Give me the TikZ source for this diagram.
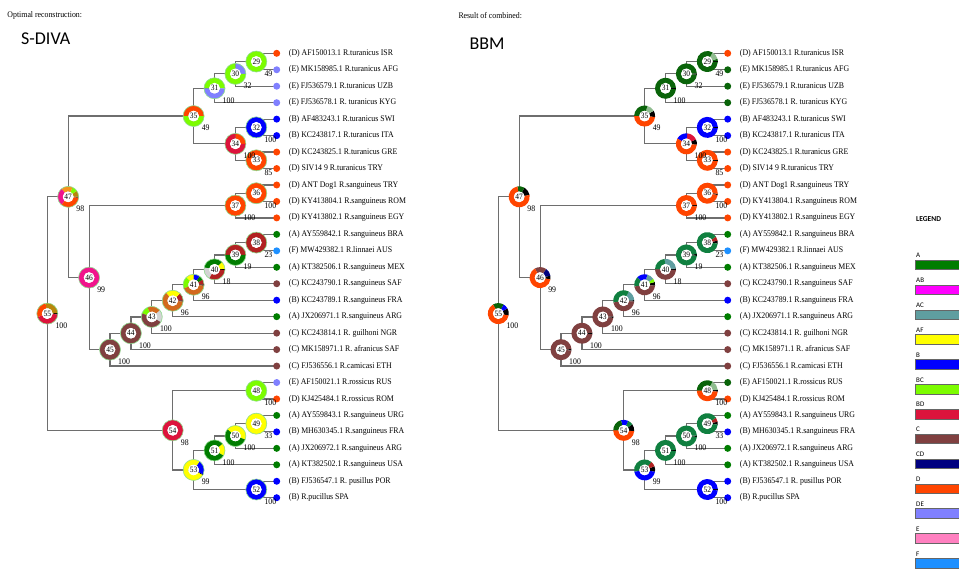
\documentclass[tikz,border=0pt]{standalone}
\usepackage{fontspec}
\setmainfont{Liberation Serif}
\newfontfamily\tipfont{Liberation Serif}[FakeStretch=0.91]
\newfontfamily\calfont{Carlito}
\usetikzlibrary{calc}
\definecolor{cA}{RGB}{0,125,0}
\definecolor{cAdk}{RGB}{10,100,10}
\definecolor{cAsea}{RGB}{16,128,64}
\definecolor{cAB}{RGB}{255,0,255}
\definecolor{cABt}{RGB}{240,20,140}
\definecolor{cAC}{RGB}{95,158,160}
\definecolor{cAF}{RGB}{255,255,0}
\definecolor{cB}{RGB}{0,0,255}
\definecolor{cBC}{RGB}{124,252,0}
\definecolor{cBD}{RGB}{220,20,60}
\definecolor{cC}{RGB}{128,64,64}
\definecolor{cCD}{RGB}{0,0,128}
\definecolor{cD}{RGB}{255,69,0}
\definecolor{cDE}{RGB}{128,128,255}
\definecolor{cE}{RGB}{255,128,192}
\definecolor{cF}{RGB}{30,144,255}
\definecolor{cFire}{RGB}{178,34,34}
\definecolor{cChoc}{RGB}{210,105,30}
\definecolor{cGray}{RGB}{211,211,211}
\definecolor{cGold}{RGB}{184,134,11}
\definecolor{cDOr}{RGB}{247,148,29}
\definecolor{cLtG}{RGB}{143,188,143}
\definecolor{cRim}{RGB}{144,220,144}
\definecolor{cEdge}{RGB}{110,110,110}
\tikzset{
  edge/.style={draw=cEdge, line width=1.2pt},
  tiplabel/.style={font=\tipfont\fontsize{8.6}{10}\selectfont, inner sep=0pt, anchor=west},
  boot/.style={font=\tipfont\fontsize{8.6}{10}\selectfont, inner sep=0pt, anchor=west},
  numnode/.style={circle, fill=white, minimum size=10.8pt, inner sep=0pt, font=\tipfont\fontsize{8.2}{9}\selectfont},
  rimL/.style={draw=cRim, line width=0.6pt},
  rimR/.style={draw=none},
  legbar/.style={draw=black!60, line width=0.8pt},
  leglab/.style={font=\calfont\fontsize{7}{8}\selectfont, inner sep=0pt, anchor=west},
}
\newcommand{\pnode}[4]{%
  \begin{scope}[shift={(#1)}]
    \foreach \sa/\ea/\sc in {#3}{%
      \fill[\sc] (\sa:10.5pt) arc[start angle=\sa, end angle=\ea, radius=10.5pt]
        -- (\ea:5.4pt) arc[start angle=\ea, end angle=\sa, radius=5.4pt] -- cycle;}
  \end{scope}
  \path[#4] (#1) circle[radius=10.5pt];
  \node[numnode] (#1n) at (#1) {#2};}
\newcommand{\skel}[2]{%
  \foreach \i/\yy/\col/\txt in {
    1/53.3/cD/{(D) AF150013.1 R.turanicus ISR},
    2/69.76/#2/{(E) MK158985.1 R.turanicus AFG},
    3/86.22/#2/{(E) FJ536579.1 R.turanicus UZB},
    4/102.68/#2/{(E) FJ536578.1 R. turanicus KYG},
    5/119.14/cB/{(B) AF483243.1 R.turanicus SWI},
    6/135.6/cB/{(B) KC243817.1 R.turanicus ITA},
    7/152.06/cD/{(D) KC243825.1 R.turanicus GRE},
    8/168.52/cD/{(D) SIV14 9 R.turanicus TRY},
    9/184.98/cD/{(D) ANT Dog1 R.sanguineus TRY},
    10/201.44/cD/{(D) KY413804.1 R.sanguineus ROM},
    11/217.9/cD/{(D) KY413802.1 R.sanguineus EGY},
    12/234.36/cA/{(A) AY559842.1 R.sanguineus BRA},
    13/250.82/cF/{(F) MW429382.1 R.linnaei AUS},
    14/267.28/cA/{(A) KT382506.1 R.sanguineus MEX},
    15/283.74/cC/{(C) KC243790.1 R.sanguineus SAF},
    16/300.2/cB/{(B) KC243789.1 R.sanguineus FRA},
    17/316.66/cA/{(A) JX206971.1 R.sanguineus ARG},
    18/333.12/cC/{(C) KC243814.1 R. guilhoni NGR},
    19/349.58/cC/{(C) MK158971.1 R. afranicus SAF},
    20/366.04/cC/{(C) FJ536556.1 R.camicasi ETH},
    21/382.5/#2/{(E) AF150021.1 R.rossicus RUS},
    22/398.96/cD/{(D) KJ425484.1 R.rossicus ROM},
    23/415.42/cA/{(A) AY559843.1 R.sanguineus URG},
    24/431.88/cB/{(B) MH630345.1 R.sanguineus FRA},
    25/448.34/cA/{(A) JX206972.1 R.sanguineus ARG},
    26/464.8/cA/{(A) KT382502.1 R.sanguineus USA},
    27/481.26/cB/{(B) FJ536547.1 R. pusillus POR},
    28/497.72/cB/{(B) R.pucillus SPA}}{%
    \coordinate (#1t\i) at (276.7,\yy);
    \node[tiplabel] (#1l\i) at (288.7,\yy) {\txt};}
  \foreach \n/\xx/\yy in {29/256.3/61.53, 30/235.4/73.88, 31/214.5/88.28,
    32/256.3/127.37, 33/256.3/160.29, 34/235.4/143.83, 35/193.6/116.06,
    36/256.3/193.21, 37/235.4/205.56, 38/256.3/242.59, 39/235.4/254.94,
    40/214.5/269.34, 41/193.6/284.77, 42/172.7/300.72, 43/151.8/316.92,
    44/130.9/333.25, 45/110.0/349.65, 46/89.1/277.6, 47/68.2/196.83,
    48/256.3/390.73, 49/256.3/423.65, 50/235.4/436.0, 51/214.5/450.4,
    52/256.3/489.49, 53/193.6/469.95, 54/172.7/430.34, 55/47.3/313.59}{%
    \coordinate (#1\n) at (\xx,\yy);}
  \foreach \p/\a/\b in {29/t1/t2, 30/29/t3, 31/30/t4, 32/t5/t6, 33/t7/t8,
    34/32/33, 35/31/34, 36/t9/t10, 37/36/t11, 38/t12/t13, 39/38/t14,
    40/39/t15, 41/40/t16, 42/41/t17, 43/42/t18, 44/43/t19, 45/44/t20,
    46/37/45, 47/35/46, 48/t21/t22, 49/t23/t24, 50/49/t25, 51/50/t26,
    52/t27/t28, 53/51/52, 54/48/53, 55/47/54}{%
    \draw[edge] (#1\a) -| (#1\p) |- (#1\b);}
  \foreach \i/\col in {1/cD,2/#2,3/#2,4/#2,5/cB,6/cB,7/cD,8/cD,9/cD,10/cD,
    11/cD,12/cA,13/cF,14/cA,15/cC,16/cB,17/cA,18/cC,19/cC,20/cC,21/#2,
    22/cD,23/cA,24/cB,25/cA,26/cA,27/cB,28/cB}{%
    \fill[\col] (#1t\i) circle[radius=3.5pt];}}
\newcommand{\boots}[1]{%
  \foreach \p/\v in {29/49, 30/32, 31/100, 35/49, 32/100, 34/100, 33/85,
    36/100, 37/100, 38/23, 39/19, 40/18, 41/96, 42/96, 43/100, 44/100,
    45/100, 46/99, 47/98, 55/100, 48/100, 49/33, 50/100, 51/100, 52/100,
    53/99, 54/98}{%
    \node[boot, xshift=8pt, yshift=-12pt] (#1b\p) at (#1\p) {\v};}}
\begin{document}
\begin{tikzpicture}[x=1pt, y=-1pt]
\useasboundingbox (0,0) rectangle (959,571);
\fill[white] (0,0) rectangle (959,571);
% titles
\node[tiplabel] (t1) at (7.3,15.7) {Optimal reconstruction:};
\node[tiplabel] (t2) at (458.3,15.7) {Result of combined:};
\node[font=\calfont\fontsize{18}{20}\selectfont, inner sep=0pt, anchor=west] (sdiva) at (21,38.7) {S-DIVA};
\node[font=\calfont\fontsize{18}{20}\selectfont, inner sep=0pt, anchor=west] (bbm) at (469.3,43.7) {BBM};
% skeletons
\skel{L}{cDE}
\begin{scope}[xshift=451pt]
\skel{R}{cAdk}
\end{scope}
% left rings (S-DIVA)
\pnode{L29}{29}{0/360/cBC}{rimL}
\pnode{L30}{30}{0/90/cDE, 90/360/cBC}{rimL}
\pnode{L31}{31}{0/180/cBC, 180/360/cDE}{rimL}
\pnode{L32}{32}{0/360/cB}{rimL}
\pnode{L33}{33}{0/360/cD}{rimL}
\pnode{L34}{34}{0/90/cD, 90/360/cBD}{rimL}
\pnode{L35}{35}{0/180/cD, 180/360/cBC}{rimL}
\pnode{L36}{36}{0/360/cD}{rimL}
\pnode{L37}{37}{0/360/cD}{rimL}
\pnode{L38}{38}{0/360/cFire}{rimL}
\pnode{L39}{39}{0/180/cFire, 180/360/cA}{rimL}
\pnode{L40}{40}{-5/3/black, 3/45/cAF, 45/170/cA, 170/240/cGray, 240/355/cFire}{rimL}
\pnode{L41}{41}{-5/3/black, 3/30/cFire, 30/55/cA, 55/90/cB, 90/135/cAF, 135/200/cBC, 200/355/cChoc}{rimL}
\pnode{L42}{42}{-5/2/black, 2/45/cFire, 45/130/cAF, 130/355/cChoc}{rimL}
\pnode{L43}{43}{-30/40/cGray, 40/115/cChoc, 115/160/cBC, 160/330/cC}{rimL}
\pnode{L44}{44}{0/360/cC}{rimL}
\pnode{L45}{45}{0/360/cC}{rimL}
\pnode{L46}{46}{0/360/cABt}{rimL}
\pnode{L47}{47}{-5/2/black, 2/35/cGold, 35/65/cBC, 65/130/cDOr, 130/230/cABt, 230/355/cD}{rimL}
\pnode{L48}{48}{0/360/cBC}{rimL}
\pnode{L49}{49}{0/360/cAF}{rimL}
\pnode{L50}{50}{-20/140/cAF, 140/340/cA}{rimL}
\pnode{L51}{51}{-30/40/cAF, 40/330/cA}{rimL}
\pnode{L52}{52}{0/360/cB}{rimL}
\pnode{L53}{53}{-30/-24/black, -24/55/cB, 55/330/cAF}{rimL}
\pnode{L54}{54}{0/360/cBD}{rimL}
\pnode{L55}{55}{-5/3/black, 3/100/cGold, 100/200/cD, 200/355/cBD}{rimL}
% right rings (BBM)
\pnode{R29}{29}{-3/3/black, 3/15/cAdk, 15/60/cLtG, 60/357/cAdk}{rimR}
\pnode{R30}{30}{-5/3/black, 3/355/cAdk}{rimR}
\pnode{R31}{31}{-5/3/black, 3/355/cAdk}{rimR}
\pnode{R32}{32}{-5/3/black, 3/355/cB}{rimR}
\pnode{R33}{33}{-5/3/black, 3/355/cD}{rimR}
\pnode{R34}{34}{-5/25/black, 25/85/cBD, 85/150/cB, 150/355/cD}{rimR}
\pnode{R35}{35}{-5/30/black, 30/75/cLtG, 75/180/cAdk, 180/355/cD}{rimR}
\pnode{R36}{36}{-10/-2/black, -2/350/cD}{rimR}
\pnode{R37}{37}{-5/3/black, 3/355/cD}{rimR}
\pnode{R38}{38}{-5/10/black, 10/35/cFire, 35/355/cAsea}{rimR}
\pnode{R39}{39}{-5/5/black, 5/355/cAsea}{rimR}
\pnode{R40}{40}{-5/5/black, 5/95/cAC, 95/180/cAsea, 180/355/cC}{rimR}
\pnode{R41}{41}{-5/15/black, 15/35/cBC, 35/75/cAC, 75/135/cB, 135/190/cAsea, 190/355/cC}{rimR}
\pnode{R42}{42}{-5/3/black, 3/60/cAC, 60/190/cAsea, 190/355/cC}{rimR}
\pnode{R43}{43}{-5/3/black, 3/355/cC}{rimR}
\pnode{R44}{44}{-5/3/black, 3/355/cC}{rimR}
\pnode{R45}{45}{-5/3/black, 3/355/cC}{rimR}
\pnode{R46}{46}{-10/10/black, 10/55/cCD, 55/120/cC, 120/350/cD}{rimR}
\pnode{R47}{47}{10/60/black, 60/100/cAdk, 100/370/cD}{rimR}
\pnode{R48}{48}{-5/5/black, 5/60/cLtG, 60/180/cAdk, 180/355/cD}{rimR}
\pnode{R49}{49}{-5/10/black, 10/35/cFire, 35/355/cAsea}{rimR}
\pnode{R50}{50}{-5/3/black, 3/355/cAsea}{rimR}
\pnode{R51}{51}{-5/3/black, 3/355/cAsea}{rimR}
\pnode{R52}{52}{-5/3/black, 3/355/cB}{rimR}
\pnode{R53}{53}{-10/20/black, 20/50/cFire, 50/190/cAsea, 190/350/cB}{rimR}
\pnode{R54}{54}{-5/35/black, 35/65/cAsea, 65/105/cB, 105/180/cAdk, 180/355/cD}{rimR}
\pnode{R55}{55}{-10/30/black, 30/60/cB, 60/120/cAdk, 120/350/cD}{rimR}
\boots{L}
\boots{R}
% legend
\node[font=\calfont\bfseries\fontsize{7.5}{8}\selectfont, inner sep=0pt, anchor=west] (legend) at (916,219) {LEGEND};
\foreach \lab/\col [count=\j from 0] in {A/cA, AB/cAB, AC/cAC, AF/cAF, B/cB, BC/cBC, BD/cBD, C/cC, CD/cCD, D/cD, DE/cDE, E/cE, F/cF}{%
  \pgfmathsetmacro{\ly}{255.6+24.85*\j}
  \node[leglab] (lg\j) at (916,\ly) {\lab};
  \draw[legbar, fill=\col] (915.5,\ly+4.7) rectangle (966,\ly+14.2);}
\end{tikzpicture}
\end{document}
